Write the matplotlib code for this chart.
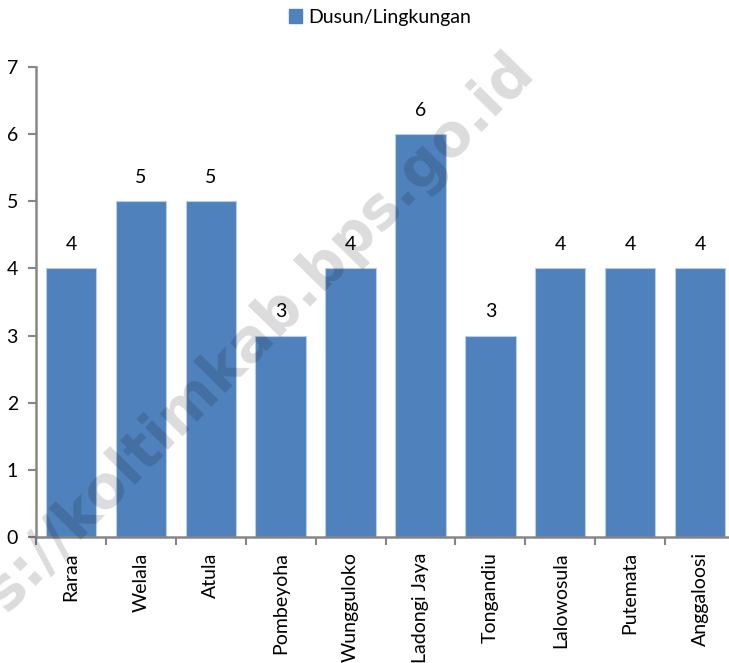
import matplotlib
matplotlib.use("Agg")
import matplotlib.pyplot as plt
from matplotlib.patches import Patch

# Number of hamlets/neighbourhoods (Dusun/Lingkungan) per village
villages = ["Raraa", "Welala", "Atula", "Pombeyoha", "Wungguloko",
            "Ladongi Jaya", "Tongandiu", "Lalowosula", "Putemata", "Anggaloosi"]
counts = [4, 5, 5, 3, 4, 6, 3, 4, 4, 4]
series_name = "Dusun/Lingkungan"
y_ticks = [0, 1, 2, 3, 4, 5, 6, 7]

BAR = "#4F81BD"
AXIS = "#868686"
FONT = "Lato"
FS = 14

plt.rcParams["font.family"] = [FONT, "DejaVu Sans"]

fig = plt.figure(figsize=(7.29, 6.63), dpi=100)
W, H = 729, 663
left_px, right_px, top_px, bottom_px = 36, 735, 67, 537
ax = fig.add_axes([left_px / W, 1 - bottom_px / H,
                   (right_px - left_px) / W, (bottom_px - top_px) / H])

x = list(range(len(villages)))
bars = ax.bar(x, counts, width=0.72, color=BAR, edgecolor="#B9CDE5",
              linewidth=0.8, zorder=2)

for xi, v in zip(x, counts):
    ax.annotate(str(v), (xi, v), xytext=(0, 17), textcoords="offset points",
                ha="center", va="center", fontsize=FS, color="black")

ax.set_xlim(-0.5, len(villages) - 0.5)
ax.set_ylim(0, 7)
ax.set_yticks(y_ticks)
ax.set_yticklabels([str(t) for t in y_ticks], fontsize=FS)

# category labels centred under each bar, tick marks between categories
ax.set_xticks(x)
ax.set_xticklabels(villages, rotation=90, fontsize=FS, ha="center", va="top")
ax.tick_params(axis="x", which="major", length=0, pad=11)
ax.set_xticks([i + 0.5 for i in range(-1, len(villages))], minor=True)
ax.tick_params(axis="x", which="minor", length=6, width=1.5, color=AXIS, direction="out")
ax.tick_params(axis="y", length=6, width=1.5, color=AXIS, direction="out", pad=7)

for s in ["top", "right"]:
    ax.spines[s].set_visible(False)
for s in ["left", "bottom"]:
    ax.spines[s].set_color(AXIS)
    ax.spines[s].set_linewidth(1.8)
ax.spines["left"].set_zorder(3)

fig.legend(handles=[Patch(facecolor=BAR, edgecolor=BAR, label=series_name)],
           loc="center", bbox_to_anchor=(380 / W, 1 - 17 / H), frameon=False,
           fontsize=FS, handlelength=0.7, handleheight=0.7, handletextpad=0.3)

# site watermark
fig.text(210 / W, 1 - 380 / H, "https://koltimkab.bps.go.id", fontsize=42,
         fontweight="bold", color="black", alpha=0.14, rotation=45.5,
         rotation_mode="anchor", ha="center", va="center", zorder=10,
         family=["DejaVu Sans"])

fig.savefig("out.png", dpi=100)
